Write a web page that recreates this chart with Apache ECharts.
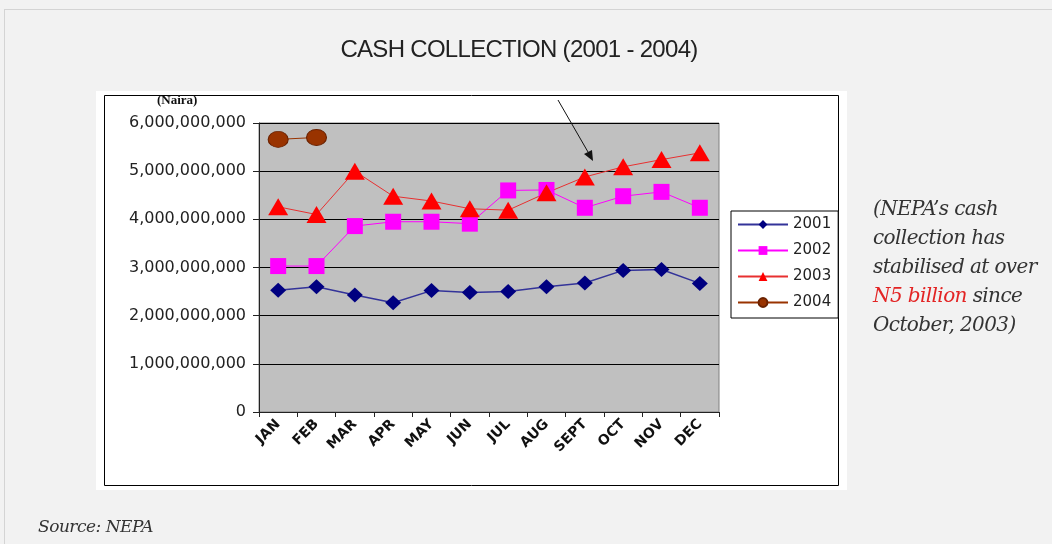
<!DOCTYPE html>
<html>
<head>
<meta charset="utf-8">
<script src="https://cdn.jsdelivr.net/npm/echarts/dist/echarts.min.js"></script>
<style>
  html, body { margin: 0; padding: 0; background: #f2f2f2; }
  body { width: 1052px; height: 544px; position: relative; overflow: hidden; }
  .frame { position: absolute; left: 4px; top: 9px; width: 1100px; height: 600px; border: 1px solid #d4d4d4; }
  #chart { position: absolute; left: 0; top: 0; width: 1052px; height: 544px; }
  .title { position: absolute; left: 0; width: 1038px; top: 35px; text-align: center;
    font: 24px "Liberation Sans", Arial, sans-serif; color: #222; letter-spacing: -0.7px; }
  .note { position: absolute; left: 873px; top: 194px; font: italic 20px/29px "DejaVu Serif", "Liberation Serif", serif;
    color: #333; letter-spacing: -0.6px; }
  .note .red { color: #e32424; }
  .source { position: absolute; left: 38px; top: 516px; font: italic 17px "DejaVu Serif", "Liberation Serif", serif;
    color: #333; letter-spacing: -0.5px; }
</style>
</head>
<body>
<div class="frame"></div>
<div id="chart"></div>
<div class="title">CASH COLLECTION (2001 - 2004)</div>
<div class="note">(NEPA’s cash<br>collection has<br>stabilised at over<br><span class="red">N5 billion</span> since<br>October, 2003)</div>
<div class="source">Source: NEPA</div>
<script>
// months on the x axis
const months = ['JAN', 'FEB', 'MAR', 'APR', 'MAY', 'JUN', 'JUL', 'AUG', 'SEPT', 'OCT', 'NOV', 'DEC'];

// cash collected, naira
const y2001 = [2530000000, 2600000000, 2430000000, 2270000000, 2520000000, 2480000000,
  2500000000, 2600000000, 2680000000, 2940000000, 2960000000, 2670000000];
const y2002 = [3030000000, 3030000000, 3860000000, 3950000000, 3950000000, 3910000000,
  4600000000, 4610000000, 4240000000, 4480000000, 4570000000, 4240000000];
const y2003 = [4260000000, 4100000000, 5000000000, 4480000000, 4380000000, 4220000000,
  4190000000, 4550000000, 4880000000, 5090000000, 5240000000, 5380000000];
const y2004 = [5660000000, 5700000000, null, null, null, null, null, null, null, null, null, null];

const chart = echarts.init(document.getElementById('chart'));

const option = {
  animation: false,
  graphic: [
    { type: 'rect', shape: { x: 96, y: 91, width: 751, height: 399 }, style: { fill: '#fff' }, z: -10 },
    { type: 'rect', shape: { x: 104.5, y: 95.5, width: 734, height: 390 }, style: { fill: 'none', stroke: '#000', lineWidth: 1 }, z: -9 },
    { type: 'text', left: 157, top: 94, style: { text: '(Naira)', font: 'bold 13px "Liberation Serif", serif', fill: '#111' } },
    // arrow pointing at the 5bn level
    { type: 'line', shape: { x1: 558, y1: 100, x2: 588, y2: 152 }, style: { stroke: '#111', lineWidth: 1 }, z: 50 },
    { type: 'polygon', shape: { points: [[584, 154], [592, 150], [593, 161]] }, style: { fill: '#111' }, z: 50 }
  ],
  grid: {
    left: 259, top: 123, width: 460, height: 289,
    containLabel: false, outerBoundsMode: 'none',
    show: true, backgroundColor: '#c0c0c0', borderColor: '#808080', borderWidth: 1
  },
  legend: {
    orient: 'vertical', left: 731, top: 211,
    backgroundColor: '#fff', borderColor: '#000', borderWidth: 1, borderRadius: 0,
    padding: [6, 7, 8, 6], itemGap: 11, itemWidth: 50, itemHeight: 11,
    textStyle: { fontFamily: 'DejaVu Sans', fontSize: 15, color: '#222' },
    data: ['2001', '2002', '2003', '2004']
  },
  xAxis: {
    type: 'category', data: months, boundaryGap: true,
    axisLine: { lineStyle: { color: '#222' } },
    axisTick: { show: true, length: 5, lineStyle: { color: '#222' } },
    axisLabel: { rotate: 45, margin: 10, fontFamily: 'DejaVu Sans', fontWeight: 'bold', fontSize: 14, color: '#111', interval: 0 },
    splitLine: { show: false }
  },
  yAxis: {
    type: 'value', min: 0, max: 6000000000, interval: 1000000000,
    axisLine: { show: true, lineStyle: { color: '#222' } },
    axisTick: { show: true, length: 6, lineStyle: { color: '#222' } },
    axisLabel: {
      margin: 13, fontFamily: 'DejaVu Sans', fontSize: 16, color: '#222',
      formatter: v => v.toLocaleString('en-US')
    },
    splitLine: { lineStyle: { color: '#000', width: 1 } }
  },
  series: [
    { name: '2001', type: 'line', data: y2001, symbol: 'diamond', symbolSize: [16, 15],
      itemStyle: { color: '#000080' }, lineStyle: { color: '#333399', width: 1.5 } },
    { name: '2002', type: 'line', data: y2002, symbol: 'rect', symbolSize: 16,
      itemStyle: { color: '#ff00ff' }, lineStyle: { color: '#ff00ff', width: 1 } },
    { name: '2003', type: 'line', data: y2003, symbol: 'triangle', symbolSize: [20, 17],
      itemStyle: { color: '#ff0000' }, lineStyle: { color: '#e83030', width: 1 } },
    { name: '2004', type: 'line', data: y2004, symbol: 'circle', symbolSize: [20, 16],
      itemStyle: { color: '#993300', borderColor: '#6b2200', borderWidth: 1 }, lineStyle: { color: '#993300', width: 1 } }
  ]
};

chart.setOption(option);
</script>
</body>
</html>
